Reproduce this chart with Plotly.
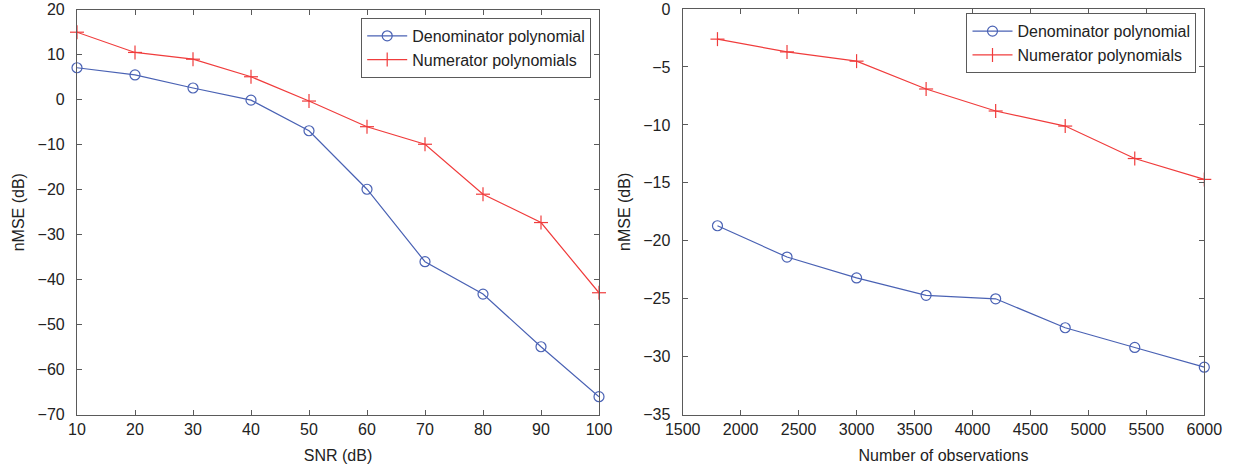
import plotly.graph_objects as go

W, H = 1237, 470

snr = [10, 20, 30, 40, 50, 60, 70, 80, 90, 100]
snr_denominator = [7.1, 5.5, 2.6, -0.1, -6.9, -19.9, -36.0, -43.2, -54.9, -66.0]
snr_numerator = [15.0, 10.5, 9.0, 5.1, -0.3, -6.0, -9.9, -21.0, -27.3, -42.9]

obs = [1800, 2400, 3000, 3600, 4200, 4800, 5400, 6000]
obs_denominator = [-18.7, -21.4, -23.2, -24.7, -25.0, -27.5, -29.2, -30.9]
obs_numerator = [-2.6, -3.7, -4.5, -6.9, -8.8, -10.1, -12.9, -14.7]

BLUE = "#4a62b4"
RED = "#f03c3c"
AX = "#5a5a5a"
TXT = "#222222"
FONT = "Liberation Sans, Arial, sans-serif"

fig = go.Figure()

def add_pair(x, yd, yn, xa, ya, legend):
    fig.add_trace(go.Scatter(
        x=x, y=yd, name="Denominator polynomial", mode="lines+markers",
        line=dict(color=BLUE, width=1.2),
        marker=dict(symbol="circle-open", size=10, color=BLUE, line=dict(width=1.2)),
        xaxis=xa, yaxis=ya, legend=legend, cliponaxis=False))
    fig.add_trace(go.Scatter(
        x=x, y=yn, name="Numerator polynomials", mode="lines+markers",
        line=dict(color=RED, width=1.2),
        marker=dict(symbol="line-ns-open", size=10, color=RED, line=dict(width=1.2, color=RED)),
        xaxis=xa, yaxis=ya, legend=legend, cliponaxis=False))
    # horizontal bar of the plus marker
    fig.add_trace(go.Scatter(
        x=x, y=yn, mode="markers", showlegend=False, hoverinfo="skip",
        marker=dict(symbol="line-ew-open", size=10, color=RED, line=dict(width=1.2, color=RED)),
        xaxis=xa, yaxis=ya, cliponaxis=False))

add_pair(snr, snr_denominator, snr_numerator, "x", "y", "legend")
add_pair(obs, obs_denominator, obs_numerator, "x2", "y2", "legend2")

axis_common = dict(
    showline=True, linecolor=AX, linewidth=1.2, mirror="ticks",
    ticks="inside", ticklen=5, tickcolor=AX, tickwidth=1,
    showgrid=False, zeroline=False, automargin=False,
    ticklabeloverflow="allow",
    tickfont=dict(size=16, color=TXT, family=FONT),
)

fig.update_layout(
    width=W, height=H,
    margin=dict(l=0, r=0, t=0, b=0),
    paper_bgcolor="white", plot_bgcolor="white",
    font=dict(family=FONT, color=TXT),
    xaxis=dict(domain=[77 / W, 599 / W], range=[10, 100], tickvals=list(range(10, 101, 10)),
               anchor="y", title=dict(text="SNR (dB)", font=dict(size=16), standoff=12), **axis_common),
    yaxis=dict(domain=[1 - 414.7 / H, 1 - 9.7 / H], range=[-70, 20], tickvals=list(range(-70, 21, 10)),
               anchor="x", ticklabelstandoff=8,
               title=dict(text="nMSE (dB)", font=dict(size=16), standoff=8), **axis_common),
    xaxis2=dict(domain=[682.7 / W, 1204.3 / W], range=[1500, 6000], tickvals=list(range(1500, 6001, 500)),
                anchor="y2", title=dict(text="Number of observations", font=dict(size=16), standoff=12),
                **axis_common),
    yaxis2=dict(domain=[1 - 414.7 / H, 1 - 9 / H], range=[-35, 0], tickvals=list(range(-35, 1, 5)),
                anchor="x2", ticklabelstandoff=8,
                title=dict(text="nMSE (dB)", font=dict(size=16), standoff=8), **axis_common),
    legend=dict(x=591 / W, y=1 - 17.7 / H, xanchor="right", yanchor="top",
                bgcolor="white", bordercolor=AX, borderwidth=1.2,
                font=dict(size=16, color=TXT, family=FONT), tracegroupgap=0,
                itemwidth=40),
    legend2=dict(x=1196.3 / W, y=1 - 13 / H, xanchor="right", yanchor="top",
                 bgcolor="white", bordercolor=AX, borderwidth=1.2,
                 font=dict(size=16, color=TXT, family=FONT), tracegroupgap=0,
                 itemwidth=40),
)

fig.write_html("out.html")
